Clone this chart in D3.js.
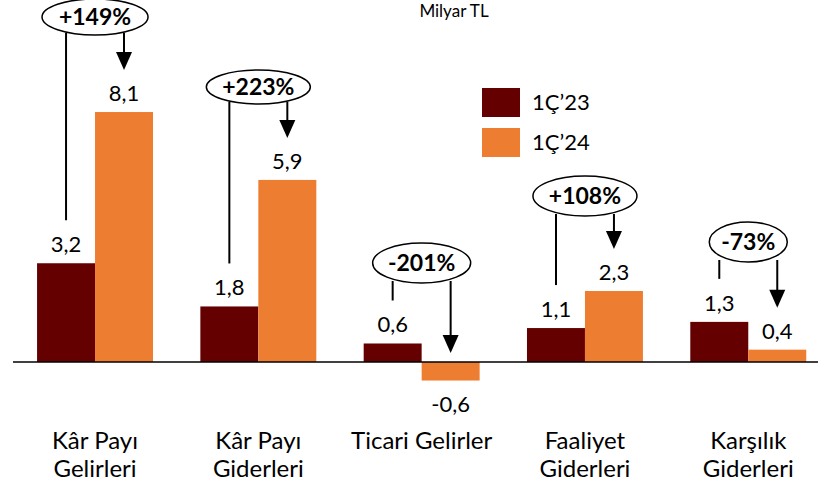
<!DOCTYPE html>
<html><head><meta charset="utf-8">
<script src="https://cdn.jsdelivr.net/npm/d3@7"></script>
<style>body{margin:0;background:#fff}svg{display:block;font-family:Lato,"Open Sans",sans-serif}</style>
</head><body><svg id="c" width="818" height="486"></svg>
<script>
const categories = [["Kâr Payı","Gelirleri"],["Kâr Payı","Giderleri"],["Ticari Gelirler"],["Faaliyet","Giderleri"],["Karşılık","Giderleri"]];
const seriesNames = ["1Ç’23","1Ç’24"];
const q1_23 = [3.2, 1.8, 0.6, 1.1, 1.3];
const q1_24 = [8.1, 5.9, -0.6, 2.3, 0.4];
const changes = ["+149%","+223%","-201%","+108%","-73%"];
const unitLabel = "Milyar TL";

// layout (not data)
const colors = ["#650000","#ED7D31"];
const ann = [{cy:17,rx:53,ry:18},{cy:87,rx:52,ry:17},{cy:263,rx:49,ry:20},{cy:196,rx:52,ry:20},{cy:242,rx:39,ry:20}];

const svg = d3.select("#c");
const keys = categories.map(c=>c.join(" "));
const x0 = d3.scaleBand().domain(keys).range([13.7,829.6]).paddingInner(0.29).paddingOuter(0.143);
const x1 = d3.scaleBand().domain(seriesNames).range([0,x0.bandwidth()]);
const y = d3.scaleLinear().domain([0,10]).range([362,362-308.6]);
const fmt = v => d3.format(".1f")(v).replace(".",",").replace("\u2212","-");

const rows = keys.map((k,i)=>({k,i,vals:[q1_23[i],q1_24[i]]}));
const g = svg.selectAll("g.grp").data(rows).join("g").attr("class","grp").attr("transform",d=>`translate(${x0(d.k)},0)`);
g.selectAll("rect").data(d=>d.vals.map((v,j)=>({v,j}))).join("rect")
  .attr("x",d=>x1(seriesNames[d.j])).attr("width",x1.bandwidth())
  .attr("y",d=>y(Math.max(0,d.v))).attr("height",d=>Math.abs(y(d.v)-y(0)))
  .attr("fill",d=>colors[d.j]);
g.selectAll("text.val").data(d=>d.vals.map((v,j)=>({v,j}))).join("text").attr("class","val")
  .attr("x",d=>x1(seriesNames[d.j])+x1.bandwidth()/2)
  .attr("y",d=>d.v>=0? y(d.v)-11 : y(d.v)+31)
  .attr("text-anchor","middle").attr("font-size",22).attr("fill","#000").text(d=>fmt(d.v));

// baseline
svg.append("line").attr("x1",13).attr("x2",818).attr("y1",y(0)).attr("y2",y(0)).attr("stroke","#000").attr("stroke-width",1.5);

// annotations
rows.forEach((d,i)=>{
  const cx = x0(d.k)+x0.bandwidth()/2;
  const a = ann[i];
  const lx = x0(d.k)+x1(seriesNames[0])+x1.bandwidth()/2;
  const ax = x0(d.k)+x1(seriesNames[1])+x1.bandwidth()/2;
  const bottom = a.cy + a.ry;
  const lEnd = y(Math.max(0,d.vals[0])) - 43;
  const v2 = d.vals[1];
  const tip = v2>=0 ? y(v2)-42 : y(0)-9;
  svg.append("line").attr("x1",lx).attr("x2",lx).attr("y1",bottom-2).attr("y2",lEnd).attr("stroke","#000").attr("stroke-width",2);
  svg.append("line").attr("x1",ax).attr("x2",ax).attr("y1",bottom-2).attr("y2",tip-16).attr("stroke","#000").attr("stroke-width",2);
  svg.append("path").attr("d",`M${ax-8},${tip-18}L${ax+8},${tip-18}L${ax},${tip}Z`).attr("fill","#000");
  svg.append("ellipse").attr("cx",cx).attr("cy",a.cy).attr("rx",a.rx).attr("ry",a.ry).attr("fill","#fff").attr("stroke","#000").attr("stroke-width",1.5);
  svg.append("text").attr("x",cx).attr("y",a.cy+8).attr("text-anchor","middle").attr("font-size",23).attr("font-weight","bold").text(changes[i]);
});

// category labels
g.each(function(d){
  const t = d3.select(this).append("text").attr("text-anchor","middle").attr("font-size",24);
  categories[d.i].forEach((line,li)=>{
    t.append("tspan").attr("x",x0.bandwidth()/2).attr("y",449+li*28).text(line);
  });
});

// unit label
svg.append("text").attr("x",454).attr("y",17).attr("text-anchor","middle").attr("font-size",17).text(unitLabel);

// legend
const lg = svg.append("g").selectAll("g").data(seriesNames).join("g").attr("transform",(d,i)=>`translate(482,${88+i*40})`);
lg.append("rect").attr("width",38).attr("height",29).attr("fill",(d,i)=>colors[i]);
lg.append("text").attr("x",50).attr("y",22).attr("font-size",22).text(d=>d);
</script></body></html>
